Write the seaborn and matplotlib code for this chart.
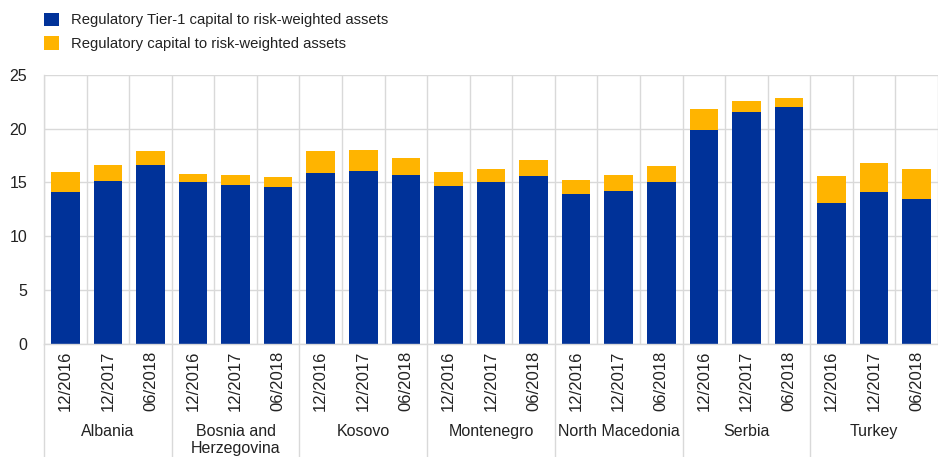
import numpy as np
import pandas as pd
import matplotlib.pyplot as plt
import matplotlib.transforms as mtransforms
import seaborn as sns

# data
countries = ["Albania", "Bosnia and\nHerzegovina", "Kosovo", "Montenegro",
             "North Macedonia", "Serbia", "Turkey"]
periods = ["12/2016", "12/2017", "06/2018"]
tier1 = [14.1, 15.1, 16.6,
         15.0, 14.8, 14.6,
         15.9, 16.1, 15.7,
         14.7, 15.0, 15.6,
         13.9, 14.2, 15.0,
         19.9, 21.6, 22.0,
         13.1, 14.1, 13.5]
total = [16.0, 16.6, 17.9,
         15.8, 15.7, 15.5,
         17.9, 18.0, 17.3,
         16.0, 16.3, 17.1,
         15.2, 15.7, 16.5,
         21.8, 22.6, 22.9,
         15.6, 16.8, 16.3]

BLUE = "#003299"
YELLOW = "#FFB400"
GRID = "#d9d9d9"
TXT = "#222222"

df = pd.DataFrame({
    "country": np.repeat(countries, len(periods)),
    "period": periods * len(countries),
    "tier1": tier1,
    "total": total,
})
df["slot"] = df["country"] + "|" + df["period"]
order = list(df["slot"])

sns.set_theme(style="white")
plt.rcParams["font.family"] = ["Liberation Sans", "DejaVu Sans"]

fig = plt.figure(figsize=(9.38, 4.57), dpi=100)
W, H = 938, 457
ax = fig.add_axes([44 / W, 1 - 343.7 / H, (938 - 44) / W, (343.7 - 75) / H])

sns.barplot(data=df, x="slot", y="total", order=order, color=YELLOW,
            width=0.67, saturation=1, ax=ax, label="Regulatory capital to risk-weighted assets",
            edgecolor="none")
sns.barplot(data=df, x="slot", y="tier1", order=order, color=BLUE,
            width=0.67, saturation=1, ax=ax, label="Regulatory Tier-1 capital to risk-weighted assets",
            edgecolor="none")
handles, labels = ax.get_legend_handles_labels()
if ax.get_legend() is not None:
    ax.get_legend().remove()

ax.set_ylim(0, 25)
ax.set_yticks(range(0, 26, 5))
ax.set_xlim(-0.5, 20.27)
ax.set_xlabel("")
ax.set_ylabel("")

ax.set_xticks(range(len(order)))
ax.set_xticklabels(df["period"], rotation=90, fontsize=12, color=TXT)
ax.tick_params(axis="x", length=0, pad=5)
ax.tick_params(axis="y", length=0, pad=12, labelsize=11.5, labelcolor=TXT)

# grid: horizontal at ticks, vertical between every bar
ax.set_xticks(np.arange(-0.5, 21, 1), minor=True)
ax.tick_params(axis="x", which="minor", length=0)
ax.grid(axis="y", color=GRID, linewidth=1)
ax.grid(axis="x", which="minor", color=GRID, linewidth=1)
ax.grid(axis="x", which="major", visible=False)
ax.set_axisbelow(True)
for side in ["top", "right"]:
    ax.spines[side].set_visible(False)
for side in ["left", "bottom"]:
    ax.spines[side].set_color(GRID)
    ax.spines[side].set_linewidth(1)

# group separators and country names under the axis
trans = mtransforms.blended_transform_factory(ax.transData, ax.transAxes)
for g in range(len(countries)):
    x0 = g * 3 - 0.5
    ax.plot([x0, x0], [0, -0.45], transform=trans, color=GRID, lw=1, clip_on=False)
    ax.text(g * 3 + 1, -0.3, countries[g], transform=trans, ha="center", va="top",
            fontsize=11.5, color=TXT, linespacing=1.15)

fig.legend(handles[::-1], labels[::-1], loc="upper left", bbox_to_anchor=(0.036, 0.995),
           frameon=False, fontsize=10.7, handlelength=1.0, handleheight=1.0,
           handletextpad=0.8, labelspacing=0.6, borderaxespad=0.3,
           labelcolor=TXT)

fig.savefig("out.png", dpi=100)
